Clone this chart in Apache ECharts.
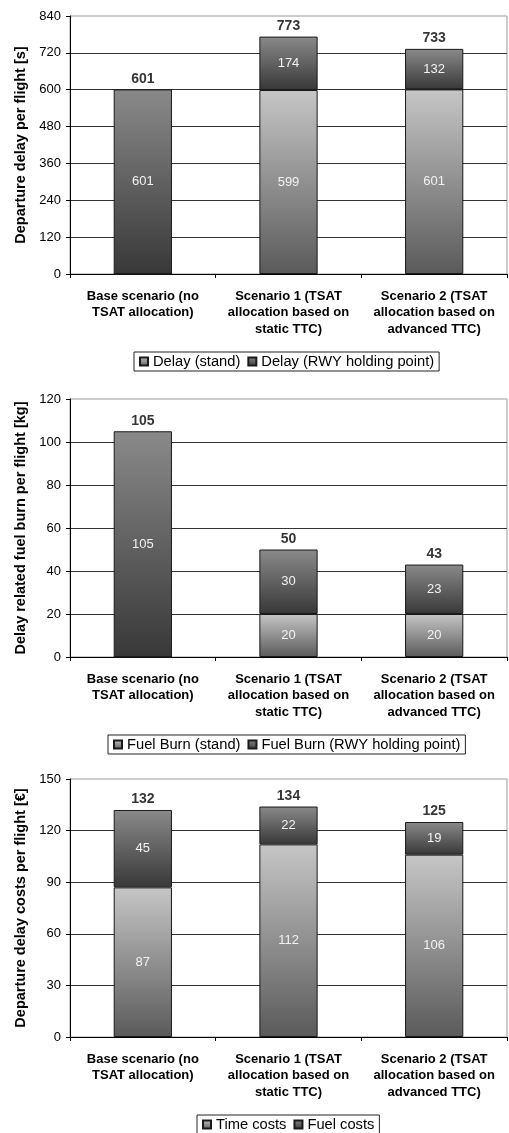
<!DOCTYPE html>
<html>
<head>
<meta charset="utf-8">
<script src="https://cdn.jsdelivr.net/npm/echarts@6/dist/echarts.min.js"></script>
<style>
html,body{margin:0;padding:0;background:#fff;}
#c{width:509px;height:1133px;}
</style>
</head>
<body>
<div id="c"></div>
<script>
const categories = ['Base scenario (no\nTSAT allocation)', 'Scenario 1 (TSAT\nallocation based on\nstatic TTC)', 'Scenario 2 (TSAT\nallocation based on\nadvanced TTC)'];

const delayStand = [0, 599, 601];
const delayRwy = [601, 174, 132];
const delayTotal = [601, 773, 733];

const fuelStand = [0, 20, 20];
const fuelRwy = [105, 30, 23];
const fuelTotal = [105, 50, 43];

const timeCosts = [87, 112, 106];
const fuelCosts = [45, 22, 19];
const costTotal = [132, 134, 125];

const delayAxis = [0, 840, 120];
const fuelAxis = [0, 120, 20];
const costAxis = [0, 150, 30];

const titles = ['Departure delay per flight [s]', 'Delay related fuel burn per flight [kg]', 'Departure delay costs per flight [€]'];
const legendNames = [
  ['Delay (stand)', 'Delay (RWY holding point)'],
  ['Fuel Burn (stand)', 'Fuel Burn (RWY holding point)'],
  ['Time costs', 'Fuel costs']
];

const FONT = '"Liberation Sans", Arial, sans-serif';
const chart = echarts.init(document.getElementById('c'), null, {renderer: 'canvas'});

function lightGrad() {
  return new echarts.graphic.LinearGradient(0, 0, 0, 1, [
    {offset: 0, color: '#c6c6c6'}, {offset: 1, color: '#5a5a5a'}]);
}
function darkGrad() {
  return new echarts.graphic.LinearGradient(0, 0, 0, 1, [
    {offset: 0, color: '#8a8a8a'}, {offset: 1, color: '#383838'}]);
}

const gridTops = [16, 399, 779];
const legendPos = [[134, 352], [108, 735], [197, 1115]];
const axes = [delayAxis, fuelAxis, costAxis];
const dataSets = [
  [delayStand, delayRwy, delayTotal],
  [fuelStand, fuelRwy, fuelTotal],
  [timeCosts, fuelCosts, costTotal]
];

const grids = [], xAxes = [], yAxes = [], series = [], legends = [];

for (let i = 0; i < 3; i++) {
  grids.push({left: 70, top: gridTops[i], width: 437, height: 258, show: true, borderColor: '#999', borderWidth: 1, backgroundColor: 'transparent'});
  xAxes.push({
    type: 'category', gridIndex: i, data: categories,
    axisLine: {lineStyle: {color: '#000', width: 1}},
    axisTick: {show: true, length: 4, lineStyle: {color: '#000'}},
    axisLabel: {interval: 0, margin: 14, fontFamily: FONT, fontSize: 13, fontWeight: 'bold', color: '#000', lineHeight: 16.5}
  });
  yAxes.push({
    type: 'value', gridIndex: i, min: axes[i][0], max: axes[i][1], interval: axes[i][2],
    name: titles[i], nameLocation: 'middle', nameGap: 38,
    nameTextStyle: {fontFamily: FONT, fontSize: 14.5, fontWeight: 'bold', color: '#000'},
    axisLine: {show: true, lineStyle: {color: '#000', width: 1}},
    axisTick: {show: true, length: 4, lineStyle: {color: '#000'}},
    axisLabel: {margin: 9, fontFamily: FONT, fontSize: 13, color: '#000'},
    splitLine: {show: true, showMinLine: false, showMaxLine: false, lineStyle: {color: '#333', width: 1}}
  });
  const innerLabel = {
    show: true, position: 'inside', fontFamily: FONT, fontSize: 13, color: '#f2f2f2',
    formatter: p => (p.value ? String(p.value) : '')
  };
  series.push({
    type: 'bar', name: legendNames[i][0], xAxisIndex: i, yAxisIndex: i, stack: 's' + i,
    data: dataSets[i][0], barWidth: '40%',
    itemStyle: {color: lightGrad(), borderColor: '#1a1a1a', borderWidth: 1},
    label: innerLabel
  });
  series.push({
    type: 'bar', name: legendNames[i][1], xAxisIndex: i, yAxisIndex: i, stack: 's' + i,
    data: dataSets[i][1], barWidth: '40%',
    itemStyle: {color: darkGrad(), borderColor: '#1a1a1a', borderWidth: 1},
    label: innerLabel
  });
  series.push({
    type: 'scatter', name: 'total' + i, xAxisIndex: i, yAxisIndex: i,
    data: dataSets[i][2], symbol: 'rect', symbolSize: 1,
    itemStyle: {color: 'rgba(0,0,0,0)'}, z: 10, silent: true,
    label: {show: true, position: 'top', distance: 3, fontFamily: FONT, fontSize: 14, fontWeight: 'bold', color: '#000'}
  });
  legends.push({
    data: legendNames[i], left: legendPos[i][0], top: legendPos[i][1], orient: 'horizontal',
    borderColor: '#222', borderWidth: 1, padding: [2, 5, 2, 5], itemGap: 7,
    itemWidth: 8, itemHeight: 8, icon: 'rect',
    textStyle: {fontFamily: FONT, fontSize: 14.7, color: '#000'},
    selectedMode: false
  });
}

chart.setOption({
  animation: false,
  backgroundColor: '#fff',
  grid: grids, xAxis: xAxes, yAxis: yAxes, series: series, legend: legends
});
</script>
</body>
</html>
